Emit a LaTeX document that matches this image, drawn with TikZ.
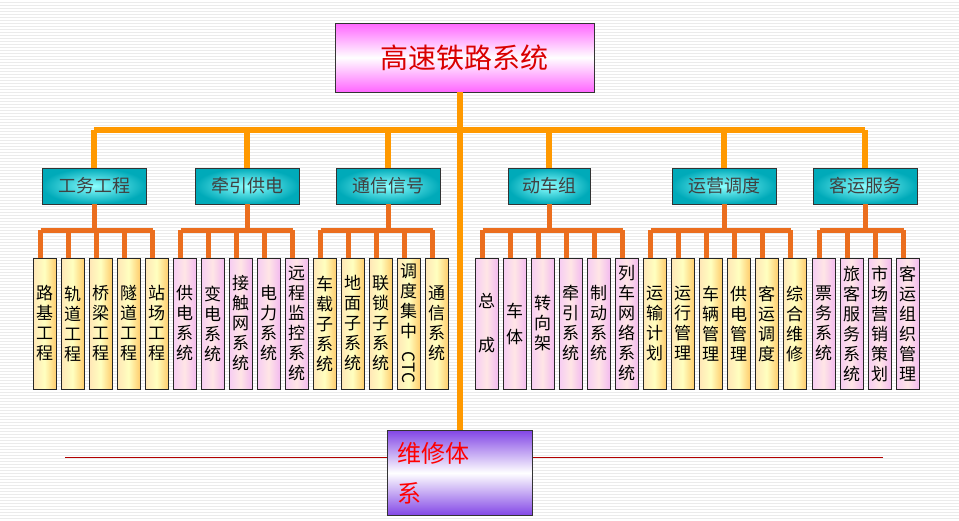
\documentclass[tikz,border=0pt]{standalone}
\usepackage{fontspec}
\setmainfont{Noto Sans CJK SC}
\usepackage{graphicx}
\usetikzlibrary{positioning,calc}
\definecolor{toporange}{RGB}{255,153,0}
\definecolor{loworange}{RGB}{235,110,30}
\definecolor{catcyan}{RGB}{0,170,185}
\definecolor{leafyellow}{RGB}{255,205,110}
\definecolor{leafpink}{RGB}{240,170,235}
\definecolor{keepviolet}{RGB}{130,70,230}

\begin{document}
\begin{tikzpicture}[
    x=1pt, y=-1pt,
    topline/.style={draw=toporange, line width=6pt},
    lowline/.style={draw=loworange, line width=5pt},
    rootbox/.style={draw=black!80, thick, minimum width=259pt, minimum height=69pt,
        top color=magenta!60, bottom color=magenta!60, middle color=white,
        text=red!85!black, font=\fontsize{28}{30}\selectfont},
    cat/.style={draw=black!80, thick, minimum width=104pt, minimum height=36pt,
        inner color=cyan!45, outer color=catcyan,
        text=black!75, font=\fontsize{18}{20}\selectfont},
    leaf/.style={draw=black!85, thick, minimum width=23pt, minimum height=131pt,
        inner sep=0pt, align=center, font=\fontsize{17}{20}\selectfont},
    yleaf/.style={leaf, left color=leafyellow!50, right color=leafyellow, middle color=yellow!25},
    pleaf/.style={leaf, left color=leafpink!60, right color=leafpink!80, middle color=pink!40},
    keepbox/.style={draw=black!80, thick, minimum width=145pt, minimum height=85pt,
        top color=keepviolet, bottom color=keepviolet, middle color=white,
        text=red, align=left, text width=125pt, font=\fontsize{24}{40}\selectfont}
]
    % background
    \useasboundingbox (0,0) rectangle (959,520);
    \fill[white] (0,0) rectangle (959,520);
    \foreach \y in {2,5,...,520}
        \draw[black!8, line width=0.8pt] (0,\y) -- (959,\y);

    % root and maintenance
    \node[rootbox] (root) at (464.5,57.5) {高速铁路系统};
    \node[keepbox, anchor=north west] (keep) at (387,430) {维修体\\系};
    \draw[red!70!black, thick] (65,457) coordinate (rl) -- (keep.west |- rl);
    \draw[red!70!black, thick] (883,457) coordinate (rr) -- (keep.east |- rr);
    \draw[topline] (keep.north |- root.south) -- (keep.north);

    % categories
    \node[cat] (gw) at (94,186) {工务工程};
    \node[cat] (qy) at (247,186) {牵引供电};
    \node[cat] (tx) at (388,186) {通信信号};
    \node[cat, minimum width=82pt] (dc) at (549,186) {动车组};
    \node[cat] (yy) at (724,186) {运营调度};
    \node[cat] (ky) at (865,186) {客运服务};
    \coordinate (bar) at (0,130);
    \draw[topline] (gw.north |- bar) -- (ky.north |- bar);
    \foreach \c in {gw,qy,tx,dc,yy,ky}
        \draw[topline] (\c.north |- bar) -- (\c.north);

    % leaves
    \foreach \i/\t in {1/{路\\基\\工\\程},2/{轨\\道\\工\\程},3/{桥\\梁\\工\\程},4/{隧\\道\\工\\程},5/{站\\场\\工\\程}}
        \node[yleaf] (a\i) at (33+28*\i-28+11.5,323.5) {\t};
    \foreach \i/\t in {1/{供\\电\\系\\统},2/{变\\电\\系\\统},3/{接\\触\\网\\系\\统},4/{电\\力\\系\\统},5/{远\\程\\监\\控\\系\\统}}
        \node[pleaf] (b\i) at (173+28*\i-28+11.5,323.5) {\t};
    \foreach \i/\t in {1/{车\\载\\子\\系\\统},2/{地\\面\\子\\系\\统},3/{联\\锁\\子\\系\\统},4/{调\\度\\集\\中\\[-6pt]\rotatebox{-90}{CTC}},5/{通\\信\\系\\统}}
        \node[yleaf] (c\i) at (313+28*\i-28+11.5,323.5) {\t};
    \foreach \i/\t in {1/{总\\[24pt]成},2/{车\\[6pt]体},3/{转\\向\\架},4/{牵\\引\\系\\统},5/{制\\动\\系\\统},6/{列\\车\\网\\络\\系\\统}}
        \node[pleaf] (d\i) at (475+28*\i-28+11.5,323.5) {\t};
    \foreach \i/\t in {1/{运\\输\\计\\划},2/{运\\行\\管\\理},3/{车\\辆\\管\\理},4/{供\\电\\管\\理},5/{客\\运\\调\\度},6/{综\\合\\维\\修}}
        \node[yleaf] (e\i) at (643+28*\i-28+11.5,323.5) {\t};
    \foreach \i/\t in {1/{票\\务\\系\\统},2/{旅\\客\\服\\务\\系\\统},3/{市\\场\\营\\销\\策\\划},4/{客\\运\\组\\织\\管\\理}}
        \node[pleaf] (f\i) at (812+28*\i-28+11.5,323.5) {\t};

    % lower connectors
    \coordinate (lbar) at (0,230);
    \foreach \c/\l/\first/\last in {gw/a/1/5,qy/b/1/5,tx/c/1/5,dc/d/1/6,yy/e/1/6,ky/f/1/4}{
        \draw[lowline] (\c.south) -- (\c.south |- lbar);
        \draw[lowline] ([xshift=-4pt]\l\first.north |- lbar) -- ([xshift=-4pt]\l\last.north |- lbar);
        \foreach \k in {\first,...,\last}
            \draw[lowline] ([xshift=-4pt]\l\k.north |- lbar) -- ([xshift=-4pt]\l\k.north);
    }
\end{tikzpicture}
\end{document}
